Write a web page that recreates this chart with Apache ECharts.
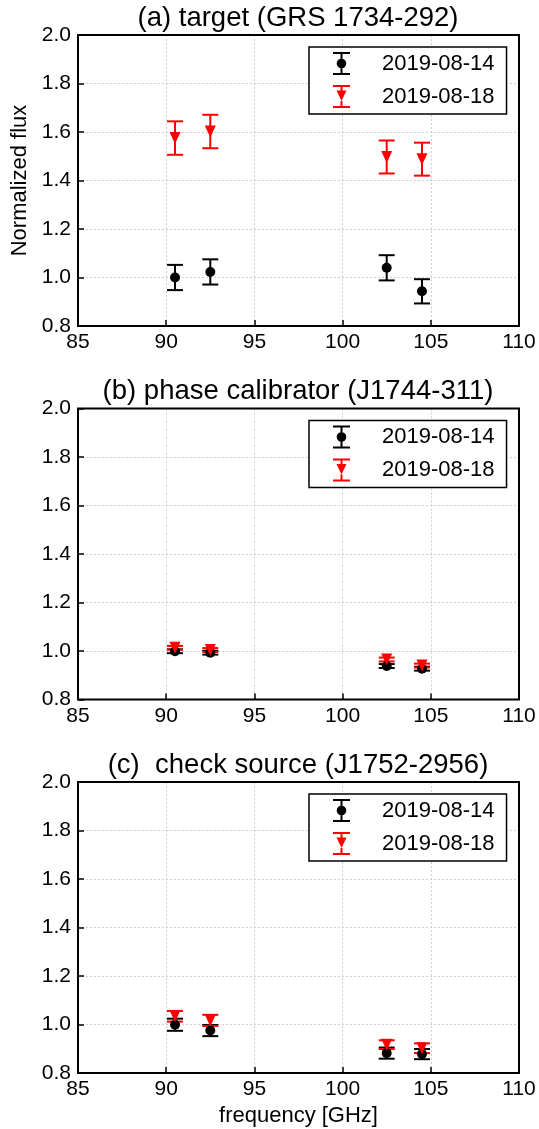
<!DOCTYPE html>
<html>
<head>
<meta charset="utf-8">
<script src="https://cdn.jsdelivr.net/npm/echarts@6/dist/echarts.min.js"></script>
<style>
html,body{margin:0;padding:0;background:#fff;}
#chart{width:539px;height:1129px;}
</style>
</head>
<body>
<div id="chart"></div>
<script>
// ---- data ----
const frequencies = [90.5, 92.5, 102.5, 104.5];
const seriesNames = ['2019-08-14', '2019-08-18'];
const panelTitles = ['(a) target (GRS 1734-292)', '(b) phase calibrator (J1744-311)', '(c)  check source (J1752-2956)'];
const xTicks = [85, 90, 95, 100, 105, 110];
const yTicks = [0.8, 1.0, 1.2, 1.4, 1.6, 1.8, 2.0];

// panel (a) target
const targetFlux14 = [1.000, 1.023, 1.040, 0.943];
const targetErr14  = [0.052, 0.052, 0.052, 0.050];
const targetFlux18 = [1.575, 1.602, 1.497, 1.488];
const targetErr18  = [0.069, 0.069, 0.068, 0.068];
// panel (b) phase calibrator
const phaseFlux14 = [0.999, 0.993, 0.938, 0.927];
const phaseErr14  = [0.008, 0.008, 0.008, 0.008];
const phaseFlux18 = [1.013, 1.004, 0.965, 0.940];
const phaseErr18  = [0.008, 0.008, 0.008, 0.008];
// panel (c) check source
const checkFlux14 = [0.999, 0.975, 0.882, 0.878];
const checkErr14  = [0.025, 0.023, 0.023, 0.021];
const checkFlux18 = [1.034, 1.017, 0.917, 0.902];
const checkErr18  = [0.022, 0.023, 0.018, 0.020];

const panels = [
  {f14: targetFlux14, e14: targetErr14, f18: targetFlux18, e18: targetErr18},
  {f14: phaseFlux14, e14: phaseErr14, f18: phaseFlux18, e18: phaseErr18},
  {f14: checkFlux14, e14: checkErr14, f18: checkFlux18, e18: checkErr18}
];

// ---- layout / style ----
const FONT = 'Liberation Sans';
const gridTops = [35, 408.5, 782];
const gridH = 291;
const gridLeft = 78;
const gridW = 441;
const colors = ['#000000', '#ff0000'];

const iconBlack = 'path://M0 0H17V2H0Z M7.5 2H9.5V6.7H7.5Z M3.7 11.5A4.8 4.8 0 1 1 13.3 11.5A4.8 4.8 0 1 1 3.7 11.5Z M7.5 16.3H9.5V21H7.5Z M0 21H17V23H0Z';
const iconRed = 'path://M0 0H17V2H0Z M7.5 2H9.5V5.5H7.5Z M3.5 5.5H13.5L8.5 16Z M7.5 16H9.5V21H7.5Z M0 21H17V23H0Z';

function errRender(params, api) {
  const x = api.value(0), lo = api.value(1), hi = api.value(2);
  const pLo = api.coord([x, lo]);
  const pHi = api.coord([x, hi]);
  const hw = 8;
  const st = {stroke: api.visual('color'), lineWidth: 2, fill: null};
  return {
    type: 'group',
    children: [
      {type: 'line', shape: {x1: pLo[0], y1: pLo[1], x2: pHi[0], y2: pHi[1]}, style: st},
      {type: 'line', shape: {x1: pLo[0] - hw, y1: pLo[1], x2: pLo[0] + hw, y2: pLo[1]}, style: st},
      {type: 'line', shape: {x1: pHi[0] - hw, y1: pHi[1], x2: pHi[0] + hw, y2: pHi[1]}, style: st}
    ]
  };
}

const grids = [], xAxes = [], yAxes = [], series = [], titles = [], legends = [];
panels.forEach((p, i) => {
  grids.push({left: gridLeft, top: gridTops[i], width: gridW, height: gridH,
    show: true, borderColor: '#000', borderWidth: 2, backgroundColor: 'transparent', z: 5});
  xAxes.push({
    type: 'value', gridIndex: i, min: xTicks[0], max: xTicks[xTicks.length - 1], interval: 5,
    axisLine: {show: false},
    axisTick: {show: true, inside: true, length: 6, lineStyle: {color: '#000', width: 1.5}},
    axisLabel: {fontFamily: FONT, fontSize: 21, color: '#000', margin: 6, showMinLabel: true, showMaxLabel: true},
    splitLine: {show: true, showMinLine: false, showMaxLine: false, lineStyle: {color: '#cfcfcf', width: 1, type: [2, 2]}},
    name: i === 2 ? 'frequency [GHz]' : '',
    nameLocation: 'middle', nameGap: 32,
    nameTextStyle: {fontFamily: FONT, fontSize: 22, color: '#000'}
  });
  yAxes.push({
    type: 'value', gridIndex: i, min: yTicks[0], max: yTicks[yTicks.length - 1], interval: 0.2,
    axisLine: {show: false},
    axisTick: {show: true, inside: true, length: 6, lineStyle: {color: '#000', width: 1.5}},
    axisLabel: {fontFamily: FONT, fontSize: 21, color: '#000', margin: 7, showMinLabel: true, showMaxLabel: true,
      formatter: v => v.toFixed(1)},
    splitLine: {show: true, showMinLine: false, showMaxLine: false, lineStyle: {color: '#cfcfcf', width: 1, type: [2, 2]}},
    name: i === 0 ? 'Normalized flux' : '',
    nameLocation: 'middle', nameGap: 43, nameRotate: 90,
    nameTextStyle: {fontFamily: FONT, fontSize: 22, color: '#000'}
  });
  titles.push({
    text: panelTitles[i], left: 298, textAlign: 'center', top: gridTops[i] - 31, padding: 0,
    textStyle: {fontFamily: FONT, fontSize: 27.5, fontWeight: 'normal', color: '#000'}
  });
  legends.push({
    orient: 'vertical', left: 309, top: gridTops[i] + 12,
    data: [{name: seriesNames[0], icon: iconBlack}, {name: seriesNames[1], icon: iconRed}],
    itemWidth: 17, itemHeight: 23, itemGap: 10,
    padding: [5, 12, 6, 24],
    borderColor: '#000', borderWidth: 1.5, backgroundColor: '#fff',
    selectedMode: false,
    itemStyle: {borderWidth: 0},
    textStyle: {fontFamily: FONT, fontSize: 22, color: '#000', padding: [0, 0, 0, 27]}
  });
  const sets = [[p.f14, p.e14], [p.f18, p.e18]];
  sets.forEach((s, k) => {
    series.push({
      type: 'custom', name: seriesNames[k], xAxisIndex: i, yAxisIndex: i,
      renderItem: errRender, z: 2,
      itemStyle: {color: colors[k]},
      data: frequencies.map((f, j) => [f, s[0][j] - s[1][j], s[0][j] + s[1][j]]),
      silent: true, animation: false
    });
  });
  sets.forEach((s, k) => {
    series.push({
      type: 'scatter', name: seriesNames[k], xAxisIndex: i, yAxisIndex: i,
      symbol: k === 0 ? 'circle' : 'triangle',
      symbolSize: k === 0 ? 10 : [11, 12],
      symbolRotate: k === 0 ? 0 : 180,
      itemStyle: {color: colors[k], opacity: 1},
      z: 3 + k,
      data: frequencies.map((f, j) => [f, s[0][j]]),
      silent: true, animation: false
    });
  });
});

const chart = echarts.init(document.getElementById('chart'), null, {renderer: 'canvas'});
chart.setOption({
  backgroundColor: '#fff',
  animation: false,
  title: titles,
  legend: legends,
  grid: grids,
  xAxis: xAxes,
  yAxis: yAxes,
  series: series
});
</script>
</body>
</html>
